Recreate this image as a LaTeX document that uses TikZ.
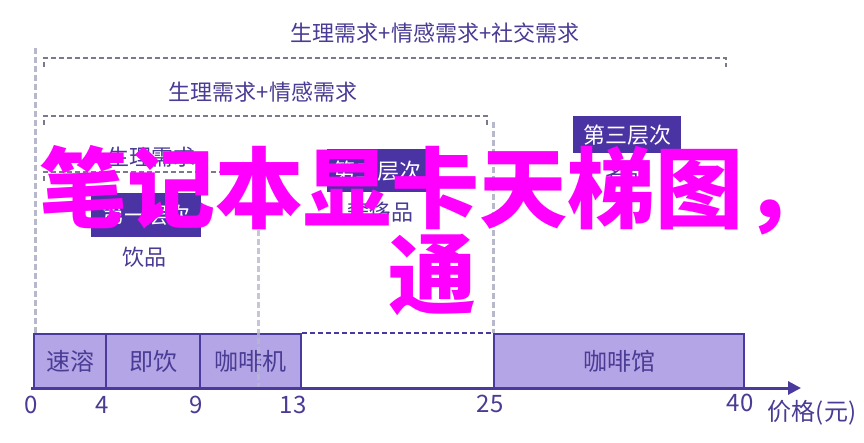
\documentclass[tikz,border=0pt]{standalone}
\usepackage{fontspec}
\setmainfont{Noto Sans CJK SC}
\usetikzlibrary{arrows.meta}
\definecolor{txt}{HTML}{4A3B94}
\definecolor{dark}{HTML}{4A33A3}
\definecolor{light}{HTML}{B4A5E6}
\definecolor{edge}{HTML}{4B3A9E}
\definecolor{vgrey}{HTML}{B8B8CC}
\definecolor{hgrey}{HTML}{7A7A8A}
\definecolor{mag}{HTML}{FF00FF}
\tikzset{
  lbl/.style={text=txt, font=\fontsize{22}{24}\selectfont, inner sep=0pt},
  num/.style={text=txt, font=\fontsize{24}{26}\selectfont, inner sep=0pt},
  bar/.style={draw=edge, line width=2pt, fill=light, text=txt, font=\fontsize{24}{26}\selectfont, inner sep=0pt, anchor=north west, minimum height=55pt},
  level/.style={fill=dark, text=white, font=\fontsize{22}{24}\selectfont, inner sep=0pt, anchor=north west},
  vdash/.style={draw=vgrey, line width=3pt, dash pattern=on 6pt off 3pt},
  hdash/.style={draw=hgrey, line width=1.5pt, dash pattern=on 5pt off 3pt},
  bigtxt/.style={text=mag, font=\fontsize{88}{88}\bfseries\selectfont, inner sep=0pt}
}
\begin{document}
\begin{tikzpicture}[x=1pt,y=-1pt]
\useasboundingbox[fill=white] (0,0) rectangle (864,443);

% vertical grey dashed guides
\coordinate (v1t) at (35,48);  \coordinate (v1b) at (35,333);
\coordinate (v3t) at (493,122); \coordinate (v3b) at (493,333);
\draw[vdash] (v1t) -- (v1b);
\draw[vdash] (v3t) -- (v3b);

% bracket lines
\coordinate (b1l) at (44,58);  \coordinate (b1r) at (726,58);
\coordinate (b2l) at (44,116); \coordinate (b2r) at (487,116);
\coordinate (b3l) at (44,172); \coordinate (b3r) at (254,172);
\draw[hdash] ([yshift=-9pt]b1l) -- (b1l) -- (b1r) -- ([yshift=-9pt]b1r);
\draw[hdash] ([yshift=-9pt]b2l) -- (b2l) -- (b2r) -- ([yshift=-9pt]b2r);
\draw[hdash] ([yshift=-9pt]b3l) -- (b3l) -- (b3r) -- ([yshift=-9pt]b3r);

\node[lbl] (t1) at (435,33) {生理需求+情感需求+社交需求};
\node[lbl] (t2) at (263,92) {生理需求+情感需求};
\node[lbl] (t3) at (151,157) {生理需求};

% level boxes
\node[level, minimum width=110pt, minimum height=44pt] (L1) at (91,193) {第一层次};
\node[lbl] (L1t) at (144,257) {饮品};
\node[level, minimum width=100pt, minimum height=43pt] (L2) at (327,149) {第二层次};
\node[lbl] (L2t) at (380,212) {奢侈品};
\node[level, minimum width=108pt, minimum height=37pt] (L3) at (573,116) {第三层次};
\node[lbl] (L3t) at (627,173) {名品};

% bars
\node[bar, minimum width=72pt] (s1) at (33,333) {速溶};
\node[bar, minimum width=94pt] (s2) at (105,333) {即饮};
\node[bar, minimum width=101pt] (s3) at (199,333) {咖啡机};
\node[bar, minimum width=250pt] (s4) at (493,333) {咖啡馆};
\draw[edge, line width=1.5pt, dash pattern=on 5pt off 3pt] (s3.north east) -- (s4.north west);

% middle guide over the bar
\coordinate (v2t) at (258,230); \coordinate (v2b) at (258,388);
\draw[vdash, draw opacity=0.8] (v2t) -- (v2b);

% axis
\coordinate (ax0) at (31,388); \coordinate (ax1) at (801,388);
\draw[edge, line width=3pt, -{Triangle[length=13pt,width=13pt]}] (ax0) -- (ax1);

\node[num] (n0) at (31,405) {0};
\node[num] (n4) at (102,405) {4};
\node[num] (n9) at (196,405) {9};
\node[num] (n13) at (293,405) {13};
\node[num] (n25) at (490,404) {25};
\node[num] (n40) at (740,403) {40};
\node[num] (unit) at (812,413) {价格(元)};

% overlay title
\node[bigtxt, anchor=west] (big1) at (39,190) {笔记本显卡天梯图，};
\node[bigtxt] (big2) at (432,275) {通};
\end{tikzpicture}
\end{document}
